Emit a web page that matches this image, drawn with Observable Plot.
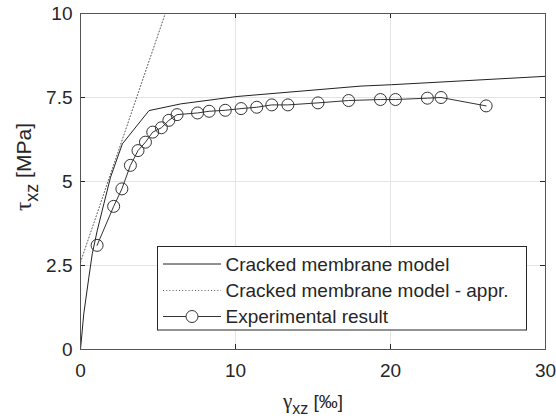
<!DOCTYPE html>
<html><head><meta charset="utf-8">
<script src="https://cdn.jsdelivr.net/npm/d3@7"></script>
<script src="https://cdn.jsdelivr.net/npm/@observablehq/plot@0.6"></script>
<style>body{margin:0;background:#fff}</style>
</head><body><div id="chart"></div>
<script>
// ---- data ----
const xTicks = [0, 10, 20, 30];
const xTickLabels = ["0", "10", "20", "30"];
const yTicks = [0, 2.5, 5, 7.5, 10];
const yTickLabels = ["0", "2.5", "5", "7.5", "10"];
const seriesNames = ["Cracked membrane model", "Cracked membrane model - appr.", "Experimental result"];

const modelX = [0, 0.21, 0.54, 0.76, 1.08, 1.51, 1.94, 2.70, 4.42, 6.47, 10.1, 11.65, 18.1, 20.06, 30];
const modelY = [0, 1.06, 2.15, 2.85, 3.54, 4.34, 5.13, 6.12, 7.11, 7.31, 7.53, 7.59, 7.84, 7.88, 8.13];

const apprX = [0, 5.47];
const apprY = [2.6, 10];

const expX = [1.07, 2.14, 2.67, 3.22, 3.71, 4.19, 4.66, 5.22, 5.70, 6.23, 7.55, 8.30, 9.34, 10.36, 11.37, 12.34, 13.38, 15.32, 17.30, 19.35, 20.32, 22.38, 23.26, 26.17];
const expY = [3.10, 4.26, 4.78, 5.48, 5.92, 6.17, 6.47, 6.60, 6.82, 6.99, 7.04, 7.09, 7.12, 7.17, 7.21, 7.28, 7.28, 7.34, 7.41, 7.44, 7.44, 7.48, 7.50, 7.25];

const model = modelX.map((x, i) => ({x, y: modelY[i]}));
const appr = apprX.map((x, i) => ({x, y: apprY[i]}));
const expData = expX.map((x, i) => ({x, y: expY[i]}));

// ---- layout ----
const W = 556, H = 418, mL = 80, mR = 11, mT = 13, mB = 69;
const innerH = H - mT - mB, innerW = W - mL - mR;
const tickLen = 5;
const font = "'Liberation Sans', Arial, Helvetica, sans-serif";
const greekFont = "'Liberation Serif', 'DejaVu Serif', serif";
const axisColor = "#262626";
const lineColor = "#222";
const gridColor = "#e4e4e4";
const dotDash = "1,2.2";

const plot = Plot.plot({
  width: W, height: H,
  marginLeft: mL, marginRight: mR, marginTop: mT, marginBottom: mB,
  style: {fontFamily: font, fontSize: "19px", background: "#fff", color: axisColor, overflow: "visible"},
  x: {domain: [0, 30]},
  y: {domain: [0, 10]},
  marks: [
    Plot.gridX(xTicks.slice(1, -1), {stroke: gridColor, strokeOpacity: 1}),
    Plot.gridY(yTicks.slice(1, -1), {stroke: gridColor, strokeOpacity: 1}),
    Plot.line(appr, {x: "x", y: "y", stroke: "#444", strokeWidth: 0.9, strokeDasharray: dotDash}),
    Plot.line(model, {x: "x", y: "y", stroke: lineColor, strokeWidth: 1}),
    Plot.line(expData, {x: "x", y: "y", stroke: "#333", strokeWidth: 1}),
    Plot.dot(expData, {x: "x", y: "y", r: 6, stroke: "#333", fill: "none", strokeWidth: 1}),
    // inward ticks on all four sides
    Plot.tickX(xTicks, {x: d => d, insetTop: innerH - tickLen, stroke: axisColor}),
    Plot.tickX(xTicks, {x: d => d, insetBottom: innerH - tickLen, stroke: axisColor}),
    Plot.tickY(yTicks, {y: d => d, insetRight: innerW - tickLen, stroke: axisColor}),
    Plot.tickY(yTicks, {y: d => d, insetLeft: innerW - tickLen, stroke: axisColor}),
    Plot.frame({stroke: "#555"}),
    Plot.axisX(xTicks, {tickSize: 0, tickPadding: 14, label: null, fontSize: 19,
      tickFormat: d => xTickLabels[xTicks.indexOf(d)]}),
    Plot.axisY(yTicks, {tickSize: 0, tickPadding: 8, label: null, fontSize: 19,
      tickFormat: d => yTickLabels[yTicks.indexOf(d)]})
  ]
});

const svg = d3.select(plot);

// axis labels
const xl = svg.append("text").attr("x", 313).attr("y", 408)
  .attr("text-anchor", "middle").attr("font-size", 19).attr("fill", axisColor).attr("font-family", font);
xl.append("tspan").attr("font-family", greekFont).attr("font-size", 21).text("γ");
xl.append("tspan").attr("font-size", 16).attr("dy", 6).text("xz");
xl.append("tspan").attr("dy", -6).text(" [‰]");

const yl = svg.append("text").attr("transform", "translate(31,167) rotate(-90)")
  .attr("text-anchor", "middle").attr("font-size", 21).attr("fill", axisColor).attr("font-family", font);
yl.append("tspan").attr("font-family", greekFont).attr("font-size", 23).text("τ");
yl.append("tspan").attr("font-size", 18).attr("dy", 7).text("xz");
yl.append("tspan").attr("dy", -7).text(" [MPa]");

// legend
const lg = svg.append("g").attr("font-family", font).attr("font-size", 19).attr("fill", axisColor)
  .attr("text-anchor", "start");
lg.append("rect").attr("x", 157.5).attr("y", 246.5).attr("width", 369).attr("height", 83.5)
  .attr("fill", "#fff").attr("stroke", axisColor);
const rowY = [264, 290.5, 316.5];
const dashes = [null, dotDash, null];
seriesNames.forEach((name, i) => {
  const y = rowY[i];
  lg.append("line").attr("x1", 163).attr("x2", 221).attr("y1", y).attr("y2", y)
    .attr("stroke", i === 1 ? "#444" : (i === 2 ? "#333" : lineColor)).attr("stroke-width", i === 1 ? 0.9 : 1)
    .attr("stroke-dasharray", dashes[i]);
  if (i === 2) lg.append("circle").attr("cx", 192).attr("cy", y).attr("r", 6)
    .attr("fill", "#fff").attr("stroke", "#333");
  lg.append("text").attr("x", 225.5).attr("y", y).attr("dy", "0.35em")
    .attr("text-anchor", "start").text(name);
});

document.getElementById("chart").appendChild(plot);
</script>
</body></html>
